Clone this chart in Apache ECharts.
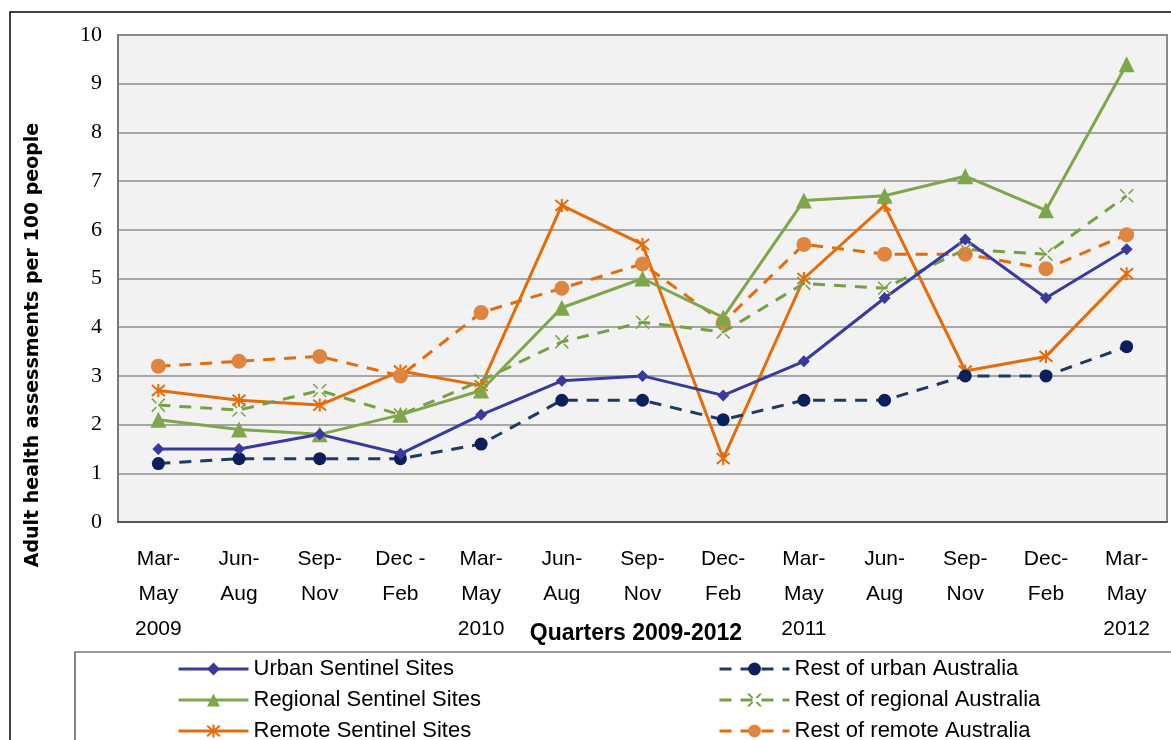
<!DOCTYPE html>
<html>
<head>
<meta charset="utf-8">
<script src="https://cdn.jsdelivr.net/npm/echarts@6/dist/echarts.min.js"></script>
<style>
  html, body { margin: 0; padding: 0; background: #fff; }
  #chart { width: 1171px; height: 740px; }
</style>
</head>
<body>
<div id="chart"></div>
<script>
const quarters = [
  'Mar-\nMay\n2009', 'Jun-\nAug', 'Sep-\nNov', 'Dec -\nFeb',
  'Mar-\nMay\n2010', 'Jun-\nAug', 'Sep-\nNov', 'Dec-\nFeb',
  'Mar-\nMay\n2011', 'Jun-\nAug', 'Sep-\nNov', 'Dec-\nFeb',
  'Mar-\nMay\n2012'
];
const urbanSentinel    = [1.5, 1.5, 1.8, 1.4, 2.2, 2.9, 3.0, 2.6, 3.3, 4.6, 5.8, 4.6, 5.6];
const restUrban        = [1.2, 1.3, 1.3, 1.3, 1.6, 2.5, 2.5, 2.1, 2.5, 2.5, 3.0, 3.0, 3.6];
const regionalSentinel = [2.1, 1.9, 1.8, 2.2, 2.7, 4.4, 5.0, 4.2, 6.6, 6.7, 7.1, 6.4, 9.4];
const restRegional     = [2.4, 2.3, 2.7, 2.2, 2.9, 3.7, 4.1, 3.9, 4.9, 4.8, 5.6, 5.5, 6.7];
const remoteSentinel   = [2.7, 2.5, 2.4, 3.1, 2.8, 6.5, 5.7, 1.3, 5.0, 6.5, 3.1, 3.4, 5.1];
const restRemote       = [3.2, 3.3, 3.4, 3.0, 4.3, 4.8, 5.3, 4.1, 5.7, 5.5, 5.5, 5.2, 5.9];
const yTicks = [0, 10, 1]; // min, max, step

const sansFont = '"Liberation Sans Narrow", "Liberation Sans", Arial, sans-serif';
const starPath = 'path://M0,0L10,10M10,0L0,10M5,-1L5,11';
const crossPath = 'path://M0,0L3.5,3.5M6.5,6.5L10,10M10,0L6.5,3.5M3.5,6.5L0,10';
const dash = [12, 9];

const chart = echarts.init(document.getElementById('chart'));

function solid(name, data, color, symbol, size, extra) {
  return Object.assign({
    name, type: 'line', data, symbol, symbolSize: size,
    lineStyle: { color, width: 3 },
    itemStyle: { color, borderColor: color, borderWidth: 0 },
    animation: false
  }, extra || {});
}

const legendBase = {
  orient: 'vertical', top: 653, height: 200,
  itemWidth: 70, itemHeight: 16, itemGap: 9,
  lineStyle: { width: 3 },
  textStyle: { fontFamily: sansFont, fontSize: 22, color: '#000', lineHeight: 22 }
};

chart.setOption({
  backgroundColor: '#fff',
  grid: {
    left: 118, right: 4, top: 35, bottom: 218,
    show: true, backgroundColor: '#f2f2f2',
    borderColor: '#8c8c8c', borderWidth: 2
  },
  xAxis: {
    type: 'category',
    data: quarters,
    boundaryGap: true,
    axisLine: { lineStyle: { color: '#555', width: 2 } },
    axisTick: { show: false },
    axisLabel: {
      interval: 0, margin: 20, color: '#000',
      fontFamily: sansFont, fontSize: 21, lineHeight: 35
    }
  },
  yAxis: {
    type: 'value',
    min: yTicks[0], max: yTicks[1], interval: yTicks[2],
    axisLine: { show: true, lineStyle: { color: '#777', width: 2 } },
    axisTick: { show: false },
    splitLine: { lineStyle: { color: '#8c8c8c', width: 1.5 } },
    axisLabel: {
      margin: 16, color: '#000',
      fontFamily: '"Liberation Serif", "DejaVu Serif", serif', fontSize: 22
    }
  },
  legend: [
    Object.assign({}, legendBase, {
      left: 172,
      data: ['Urban Sentinel Sites', 'Regional Sentinel Sites', 'Remote Sentinel Sites']
    }),
    Object.assign({}, legendBase, {
      left: 713,
      data: ['Rest of urban Australia', 'Rest of regional Australia', 'Rest of remote Australia']
    })
  ],
  graphic: [
    {
      type: 'rect', shape: { x: 10, y: 12, width: 1200, height: 800 },
      style: { fill: 'none', stroke: '#000', lineWidth: 1.5 }, silent: true
    },
    {
      type: 'rect', shape: { x: 75, y: 652, width: 1200, height: 200 },
      style: { fill: 'none', stroke: '#333', lineWidth: 1.2 }, silent: true
    },
    {
      type: 'text', x: 33, y: 345, rotation: Math.PI / 2,
      style: {
        text: 'Adult health assessments per 100 people',
        fontFamily: '"DejaVu Sans", Verdana, sans-serif', fontWeight: 'bold',
        fontSize: 19, fill: '#000', align: 'center', verticalAlign: 'middle'
      }
    },
    {
      type: 'text', x: 636, y: 634,
      style: {
        text: 'Quarters 2009-2012',
        fontFamily: sansFont, fontWeight: 'bold',
        fontSize: 23, fill: '#000', align: 'center', verticalAlign: 'middle'
      }
    }
  ],
  series: [
    solid('Remote Sentinel Sites', remoteSentinel, '#e46c0a', starPath, 13,
      { itemStyle: { color: '#e46c0a', borderColor: '#e46c0a', borderWidth: 2 } }),
    solid('Rest of remote Australia', restRemote, '#e46c0a', 'circle', 15,
      { lineStyle: { color: '#e46c0a', width: 3, type: dash },
        itemStyle: { color: '#e0853f' } }),
    solid('Rest of regional Australia', restRegional, '#77a043', crossPath, 13,
      { lineStyle: { color: '#77a043', width: 3, type: dash },
        itemStyle: { color: '#77a043', borderColor: '#77a043', borderWidth: 1.5 } }),
    solid('Regional Sentinel Sites', regionalSentinel, '#7ea64b', 'triangle', 16),
    solid('Rest of urban Australia', restUrban, '#1f3a60', 'circle', 13,
      { lineStyle: { color: '#1f3a60', width: 3, type: dash },
        itemStyle: { color: '#0a1f5c' } }),
    solid('Urban Sentinel Sites', urbanSentinel, '#3a3a9e', 'diamond', 12)
  ]
});
</script>
</body>
</html>
